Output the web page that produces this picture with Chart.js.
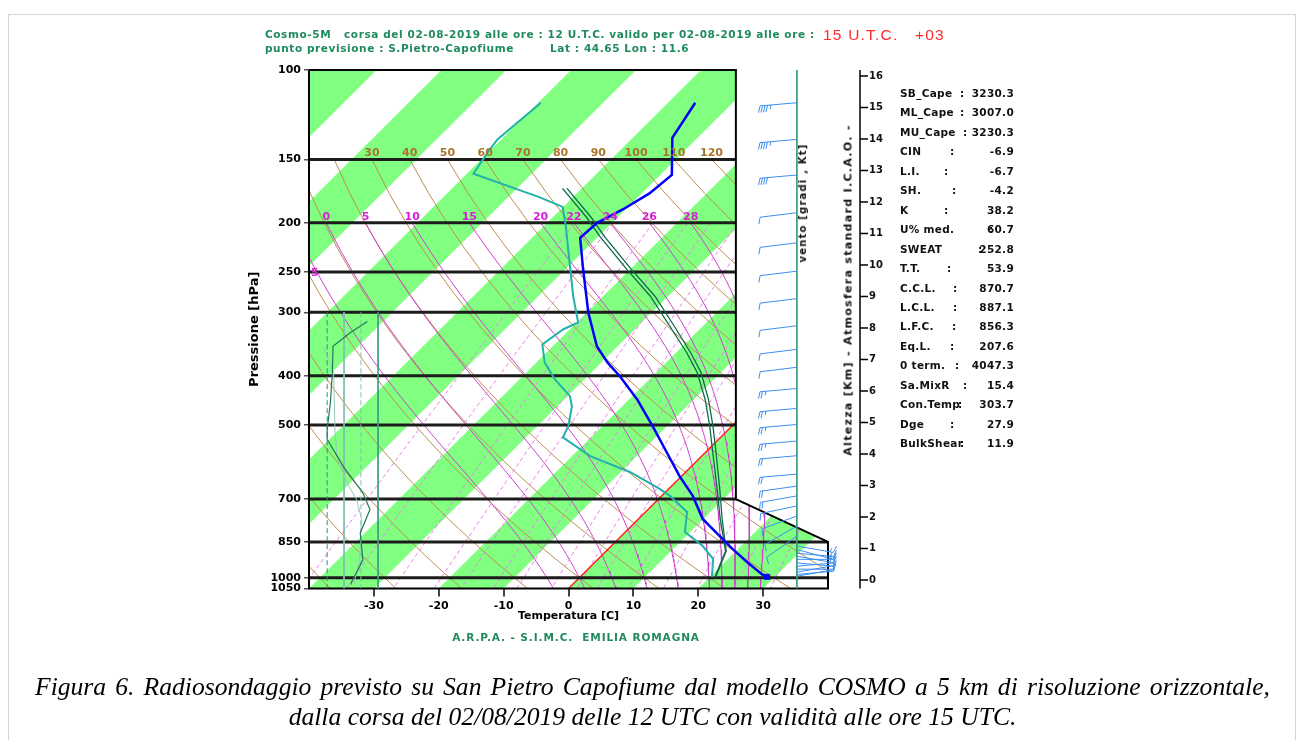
<!DOCTYPE html>
<html lang="it">
<head>
<meta charset="utf-8">
<title>Radiosondaggio previsto - S.Pietro Capofiume</title>
<script src="https://cdn.jsdelivr.net/npm/chart.js@4.4.1/dist/chart.umd.min.js"></script>
<style>
  body { margin: 0; width: 1303px; height: 740px; position: relative; overflow: hidden; background: #fff; }
  #frame { position: absolute; left: 8px; top: 14px; width: 1286px; height: 740px; border: 1px solid #d4d4d4; }
  #skewt { position: absolute; left: 0; top: 0; }
  .txt { position: absolute; white-space: pre; font-family: "DejaVu Sans", sans-serif; font-weight: bold; line-height: 1; z-index: 2; }
  .green { color: #1f8a5c; font-size: 10.5px; letter-spacing: 0.6px; }
  .idx { font-size: 10.5px; letter-spacing: 0.3px; color: #111; }
  .rot { transform: translate(-50%, -50%) rotate(-90deg); }
  .cap { position: absolute; left: 35px; width: 1235px; font-family: "Liberation Serif", "Times New Roman", serif; font-style: italic; font-size: 25.6px; line-height: 30px; color: #000; white-space: nowrap; }
</style>
</head>
<body>
<div id="frame"></div>
<canvas id="skewt" width="1303" height="740"></canvas>

<div class="txt green" style="left:265px;top:29px">Cosmo-5M   corsa del 02-08-2019 alle ore : 12 U.T.C. valido per 02-08-2019 alle ore :</div>
<div class="txt" style="left:823px;top:27px;font-family:'Liberation Sans',sans-serif;font-weight:normal;font-size:15.5px;letter-spacing:1.2px;color:#ff2a2a">15 U.T.C.   +03</div>
<div class="txt green" style="left:265px;top:43px">punto previsione : S.Pietro-Capofiume</div>
<div class="txt green" style="left:550px;top:43px">Lat : 44.65 Lon : 11.6</div>
<div class="txt green" style="left:576px;top:632px;transform:translateX(-50%);letter-spacing:0.9px">A.R.P.A. - S.I.M.C.  EMILIA ROMAGNA</div>
<div class="txt rot" style="left:848px;top:290px;font-size:11px;letter-spacing:1.3px;color:#111">Altezza [Km] - Atmosfera standard I.C.A.O. -</div>
<div class="txt rot" style="left:803px;top:203px;font-size:10px;letter-spacing:1.2px;color:#111">vento [gradi , Kt]</div>
<div id="indexPanel"></div>
<div class="cap" style="top:672px;text-align:justify;text-align-last:justify">Figura 6. Radiosondaggio previsto su San Pietro Capofiume dal modello COSMO a 5 km di risoluzione orizzontale,</div>
<div class="cap" style="top:702px;text-align:center">dalla corsa del 02/08/2019 delle 12 UTC con validità alle ore 15 UTC.</div>

<script>
// skew factor of the diagram: degrees C added per unit of ln(1050/p)
const SKEW = 34.2;

const pressLevels = [100, 150, 200, 250, 300, 400, 500, 700, 850, 1000, 1050];
const xTicks = [-30, -20, -10, 0, 10, 20, 30];
const kmTicks = [0, 1, 2, 3, 4, 5, 6, 7, 8, 9, 10, 11, 12, 13, 14, 15, 16];

// temperature profile (hPa, C)
const tempP = [116, 136, 161, 175, 188, 200, 214, 244, 300, 350, 377, 401, 445, 503, 566, 631, 690, 766, 839, 878, 931, 983, 996];
const tempC = [-55.8, -53.9, -48.2, -48.8, -50.4, -52.3, -52.6, -47.7, -39.8, -33.2, -29.0, -25.0, -18.8, -12.2, -6.0, -0.3, 4.8, 9.9, 16.1, 19.2, 23.4, 27.5, 28.8];

// dew point profile
const dewP = [116, 137, 145, 160, 178, 186, 202, 240, 279, 314, 324, 347, 377, 407, 439, 460, 503, 529, 576, 619, 669, 690, 742, 813, 866, 918, 996];
const dewC = [-79.6, -80.6, -80.1, -79.0, -65.2, -60.1, -56.8, -50.3, -44.6, -39.8, -41.0, -41.9, -38.7, -34.5, -29.6, -27.7, -25.2, -24.3, -17.2, -8.6, -1.3, 1.3, 6.4, 9.2, 14.1, 17.7, 20.3];

// lifted parcel (two curves)
const parcelP = [171, 195, 213, 247, 279, 320, 360, 394, 445, 503, 566, 669, 766, 886, 996];
const parcelC = [-63.0, -54.8, -49.7, -40.5, -32.7, -25.0, -18.4, -13.7, -8.3, -3.4, 1.1, 7.5, 12.6, 18.4, 20.8];
const parcel2C = [-62.3, -54.1, -49.0, -39.8, -32.0, -24.3, -17.8, -13.1, -7.8, -2.9, 1.6, 7.9, 12.9, 18.5, 20.9];

// wind
const windP = [116, 137, 161, 191, 219, 249, 282, 319, 355, 385, 424, 464, 499, 538, 575, 625, 660, 690, 722, 756, 791, 828, 866, 880, 895, 907, 920, 935, 949, 962, 975, 985, 993];
const windDir = [265, 265, 265, 263, 263, 263, 263, 263, 263, 263, 265, 265, 265, 265, 265, 265, 262, 260, 258, 250, 240, 235, 100, 105, 95, 100, 90, 95, 85, 90, 80, 85, 80];
const windKt = [45, 45, 40, 10, 10, 10, 10, 10, 10, 10, 25, 25, 25, 25, 20, 20, 20, 20, 15, 10, 10, 10, 15, 15, 15, 15, 15, 10, 10, 10, 10, 10, 10];

// reference lines
const thetaLines = [-40, -30, -20, -10, 0, 10, 20, 30, 40, 50, 60, 70, 80, 90, 100, 110, 120];
const thetaLabels = [30, 40, 50, 60, 70, 80, 90, 100, 110, 120];
const thetaWLines = [-5, 0, 5, 10, 15, 20, 22, 24, 26, 28];
const thetaWLabels = ['5', '0', '5', '10', '15', '20', '22', '24', '26', '28'];
const mixRatios = [0.1, 0.2, 0.4, 0.7, 1, 1.5, 2, 3, 4, 5, 7, 10, 14, 20, 28];
const stripeStarts = [-120, -100, -80, -60, -40, -20, 0, 20, 40];

// small side profile at the left of the diagram
const sideRefX = [-37.2, -34.6, -32.0, -29.35];
const sideP = [313, 329, 350, 394, 452, 510, 534, 604, 680, 734, 816, 922, 1031];
const sideX = [-31.0, -33.6, -36.3, -36.4, -36.7, -37.2, -37.2, -34.7, -31.7, -30.6, -32.1, -31.7, -33.6];
const side2P = [350, 394, 510, 577, 648, 700, 766, 922, 1031];
const side2X = [-37.8, -36.2, -36.0, -35.7, -34.2, -32.7, -31.9, -32.2, -33.1];

// indices
const indexNames = ['SB_Cape', 'ML_Cape', 'MU_Cape', 'CIN', 'L.I.', 'SH.', 'K', 'U% med.', 'SWEAT', 'T.T.', 'C.C.L.', 'L.C.L.', 'L.F.C.', 'Eq.L.', '0 term.', 'Sa.MixR', 'Con.Temp', 'Dge', 'BulkShear'];
const indexValues = ['3230.3', '3007.0', '3230.3', '-6.9', '-6.7', '-4.2', '38.2', '60.7', '252.8', '53.9', '870.7', '887.1', '856.3', '207.6', '4047.3', '15.4', '303.7', '27.9', '11.9'];
const indexColonX = [960, 960, 963, 950, 944, 952, 944, 989, 978, 947, 953, 953, 952, 950, 955, 963, 958, 950, 960];

// diagram geometry (data units)
const boxRightX = 25.8;
const barbX = 35.2;

const toPlot = (t, p) => t + SKEW * Math.log(1050 / p);
const profile = (ps, ts) => ps.map((p, i) => ({ x: toPlot(ts[i], p), y: p }));

function lapse(p, T) {
    const tc = T - 273.15;
    const es = 6.112 * Math.exp(17.67 * tc / (tc + 243.5));
    const rs = 0.622 * es / (p - es);
    const L = 2.501e6, Rd = 287.04, Cp = 1005.7;
    return (Rd * T + L * rs) / (Cp + L * L * rs * 0.622 / (Rd * T * T)) / p;
}

function moistLine(tw) {
    const up = [];
    let T = tw + 273.15;
    for (let p = 1000; p >= 200; p -= 2) {
        if (p % 10 === 0) up.push({ p: p, t: T - 273.15 });
        T -= 2 * lapse(p, T);
    }
    const down = [];
    T = tw + 273.15;
    for (let p = 1000; p < 1050; p += 2) {
        T += 2 * lapse(p, T);
        if ((p + 2) % 10 === 0) down.push({ p: p + 2, t: T - 273.15 });
    }
    return up.reverse().concat(down).map(o => ({ x: toPlot(o.t, o.p), y: o.p }));
}

function dryLine(th) {
    const pts = [];
    for (let p = 150; p <= 1050; p += 25) {
        const t = (th + 273.15) * Math.pow(p / 1000, 0.2857) - 273.15;
        pts.push({ x: toPlot(t, p), y: p });
    }
    return pts;
}

function mixLine(w) {
    const pts = [];
    for (let p = 200; p <= 1050; p += 50) {
        const e = (w / 1000) * p / (0.622 + w / 1000);
        const l = Math.log(e / 6.112);
        pts.push({ x: toPlot(243.5 * l / (17.67 - l), p), y: p });
    }
    return pts;
}

const datasets = [];
const add = (ds) => datasets.push(Object.assign({ pointRadius: 0, borderWidth: 1, fill: false, tension: 0 }, ds));

stripeStarts.forEach(t => add({
    data: [{ x: toPlot(t, 1050), y: 1050 }, { x: toPlot(t, 100), y: 100 }, { x: toPlot(t + 10, 100), y: 100 }, { x: toPlot(t + 10, 1050), y: 1050 }],
    borderWidth: 0, borderColor: 'rgba(0,0,0,0)', backgroundColor: '#80ff80', fill: 'shape'
}));

thetaLines.forEach(th => add({ data: dryLine(th), borderColor: '#bd8f4f', borderWidth: 1 }));

const moistSets = thetaWLines.map(moistLine);
moistSets.forEach(d => add({ data: d, borderColor: '#cf3fcf', borderWidth: 1 }));

mixRatios.forEach(w => add({ data: mixLine(w), borderColor: '#ea80ea', borderWidth: 1, borderDash: [4, 3] }));

add({ data: [{ x: toPlot(0, 1050), y: 1050 }, { x: toPlot(0, 420), y: 420 }], borderColor: '#ff2020', borderWidth: 1.5 });

pressLevels.slice(1, -1).forEach(p => add({
    data: [{ x: -40, y: p }, { x: 40, y: p }], borderColor: '#1c1c1c', borderWidth: 3
}));

// white area right of the diagram box (wind column)
add({
    data: [{ x: boxRightX, y: 100 }, { x: 40, y: 100 }, { x: 40, y: 850 }, { x: boxRightX, y: 700 }],
    borderWidth: 0, borderColor: 'rgba(0,0,0,0)', backgroundColor: '#ffffff', fill: 'shape'
});

add({
    data: [{ x: -40, y: 100 }, { x: boxRightX, y: 100 }, { x: boxRightX, y: 700 }, { x: 40, y: 850 }, { x: 40, y: 1050 }, { x: -40, y: 1050 }, { x: -40, y: 100 }],
    borderColor: '#000', borderWidth: 2, clip: 4
});

add({ data: [{ x: barbX, y: 100 }, { x: barbX, y: 1050 }], borderColor: '#3a9a7a', borderWidth: 1 });

const sideStyles = [
    { borderColor: '#2f8f7f', borderDash: [5, 3] },
    { borderColor: '#7fc0b0', borderDash: [] },
    { borderColor: '#7fc0b0', borderDash: [5, 3] },
    { borderColor: '#3f9f80', borderDash: [] }
];
sideRefX.forEach((x, i) => add(Object.assign({ data: [{ x: x, y: 300 }, { x: x, y: 1050 }], borderWidth: 1 }, sideStyles[i])));
add({ data: side2P.map((p, i) => ({ x: side2X[i], y: p })), borderColor: '#9fc8bc', borderWidth: 1 });
add({ data: sideP.map((p, i) => ({ x: sideX[i], y: p })), borderColor: '#1f7a5a', borderWidth: 1.2 });

add({ data: profile(dewP, dewC), borderColor: '#22b2aa', borderWidth: 2 });
add({ data: profile(parcelP, parcelC), borderColor: '#0f6a4c', borderWidth: 1.3 });
add({ data: profile(parcelP, parcel2C), borderColor: '#0f6a4c', borderWidth: 1.3 });
add({ data: profile(tempP, tempC), borderColor: '#0000ff', borderWidth: 2.5 });
add({
    data: profile(tempP.slice(-1), tempC.slice(-1)), showLine: false,
    pointRadius: 3.5, pointStyle: 'rect', pointBackgroundColor: '#0000ff', pointBorderColor: '#0000ff'
});

datasets.forEach((d, i) => { d.order = datasets.length - i; });

function drawBarb(ctx, x0, y0, dir, kt) {
    const r = dir * Math.PI / 180;
    const ux = Math.sin(r), uy = -Math.cos(r);
    const len = 37;
    const ex = x0 + ux * len, ey = y0 + uy * len;
    const fx = uy * 0.95 + ux * 0.3, fy = -ux * 0.95 + uy * 0.3;
    ctx.beginPath();
    ctx.moveTo(x0, y0);
    ctx.lineTo(ex, ey);
    let rest = Math.round(kt / 5) * 5;
    let pos = 0;
    while (rest >= 10) {
        const bx = ex - ux * pos, by = ey - uy * pos;
        ctx.moveTo(bx, by);
        ctx.lineTo(bx + fx * 7, by + fy * 7);
        pos += 2.5;
        rest -= 10;
    }
    if (rest >= 5) {
        const bx = ex - ux * (pos + 1), by = ey - uy * (pos + 1);
        ctx.moveTo(bx, by);
        ctx.lineTo(bx + fx * 4, by + fy * 4);
    }
    ctx.stroke();
}

const overlay = {
    id: 'overlay',
    afterDatasetsDraw(chart) {
        const { ctx, chartArea } = chart;
        const xs = chart.scales.x, ys = chart.scales.y;
        ctx.save();
        ctx.textAlign = 'center';
        ctx.textBaseline = 'alphabetic';
        ctx.font = 'bold 11px "DejaVu Sans", sans-serif';
        ctx.fillStyle = '#a8742a';
        thetaLabels.forEach(th => {
            const pt = dryLine(th)[0];
            ctx.fillText(String(th), xs.getPixelForValue(pt.x), ys.getPixelForValue(150) - 3);
        });
        ctx.fillStyle = '#d81cd8';
        moistSets.forEach((pts, i) => {
            let pt = pts[0];
            if (pt.x < -40) {
                pt = pts.find(q => q.x >= -39.5);
                ctx.textAlign = 'left';
                ctx.fillText(thetaWLabels[i], chartArea.left + 2, ys.getPixelForValue(pt.y) + 4);
                ctx.textAlign = 'center';
                return;
            }
            ctx.fillText(thetaWLabels[i], xs.getPixelForValue(pt.x), ys.getPixelForValue(200) - 3);
        });
        ctx.strokeStyle = '#3d8ff0';
        ctx.lineWidth = 1;
        const bx = xs.getPixelForValue(barbX);
        windP.forEach((p, i) => drawBarb(ctx, bx, ys.getPixelForValue(p), windDir[i], windKt[i]));
        ctx.restore();
    },
    afterDraw(chart) {
        const { ctx, chartArea } = chart;
        const yk = chart.scales.yk;
        const ax = chartArea.right + 32;
        ctx.save();
        ctx.strokeStyle = '#000';
        ctx.lineWidth = 1.5;
        ctx.beginPath();
        ctx.moveTo(ax, chartArea.top);
        ctx.lineTo(ax, chartArea.bottom);
        ctx.stroke();
        ctx.font = 'bold 10px "DejaVu Sans", sans-serif';
        ctx.fillStyle = '#111';
        ctx.textBaseline = 'middle';
        kmTicks.forEach(k => {
            const y = yk.getPixelForValue(k);
            ctx.beginPath();
            ctx.moveTo(ax, y);
            ctx.lineTo(ax + 8, y);
            ctx.stroke();
            ctx.fillText(String(k), ax + 9, y);
        });
        ctx.restore();
    }
};

new Chart(document.getElementById('skewt'), {
    type: 'line',
    data: { datasets: datasets },
    options: {
        responsive: false,
        animation: false,
        devicePixelRatio: 1,
        layout: { padding: { left: 247, top: 70, right: 475, bottom: 117.5 } },
        plugins: { legend: { display: false }, tooltip: { enabled: false } },
        scales: {
            x: {
                type: 'linear', min: -40, max: 40,
                afterBuildTicks: s => { s.ticks = xTicks.map(v => ({ value: v })); },
                afterFit: s => { s.height = 34; },
                border: { display: false },
                grid: { drawOnChartArea: false, drawTicks: true, tickLength: 8, color: '#444', lineWidth: 2 },
                ticks: { autoSkip: false, maxRotation: 0, color: '#000', padding: 3, font: { family: 'DejaVu Sans', weight: 'bold', size: 11 }, callback: v => String(v) },
                title: { display: true, text: 'Temperatura [C]', color: '#000', padding: 0, font: { family: 'DejaVu Sans', weight: 'bold', size: 11 } }
            },
            y: {
                type: 'logarithmic', reverse: true, min: 100, max: 1050,
                afterBuildTicks: s => { s.ticks = pressLevels.map(v => ({ value: v })); },
                afterFit: s => { s.width = 62; },
                border: { display: false },
                grid: { drawOnChartArea: false, drawTicks: true, tickLength: 5, color: '#555', lineWidth: 1.5 },
                ticks: { autoSkip: false, color: '#000', padding: 3, font: { family: 'DejaVu Sans', weight: 'bold', size: 11 }, callback: v => String(v) },
                title: { display: true, text: 'Pressione [hPa]', color: '#000', padding: 0, font: { family: 'DejaVu Sans', weight: 'bold', size: 13 } }
            },
            yk: { type: 'linear', display: false, min: -0.27, max: 16.19 }
        }
    },
    plugins: [overlay]
});

// index table on the right
const panel = document.getElementById('indexPanel');
indexNames.forEach((name, i) => {
    const top = 88 + i * 19.45;
    panel.insertAdjacentHTML('beforeend',
        '<div class="txt idx" style="left:900px;top:' + top + 'px">' + name + '</div>' +
        '<div class="txt idx" style="left:' + indexColonX[i] + 'px;top:' + top + 'px">:</div>' +
        '<div class="txt idx" style="right:' + (1303 - 1014) + 'px;top:' + top + 'px">' + indexValues[i] + '</div>');
});
</script>
</body>
</html>
